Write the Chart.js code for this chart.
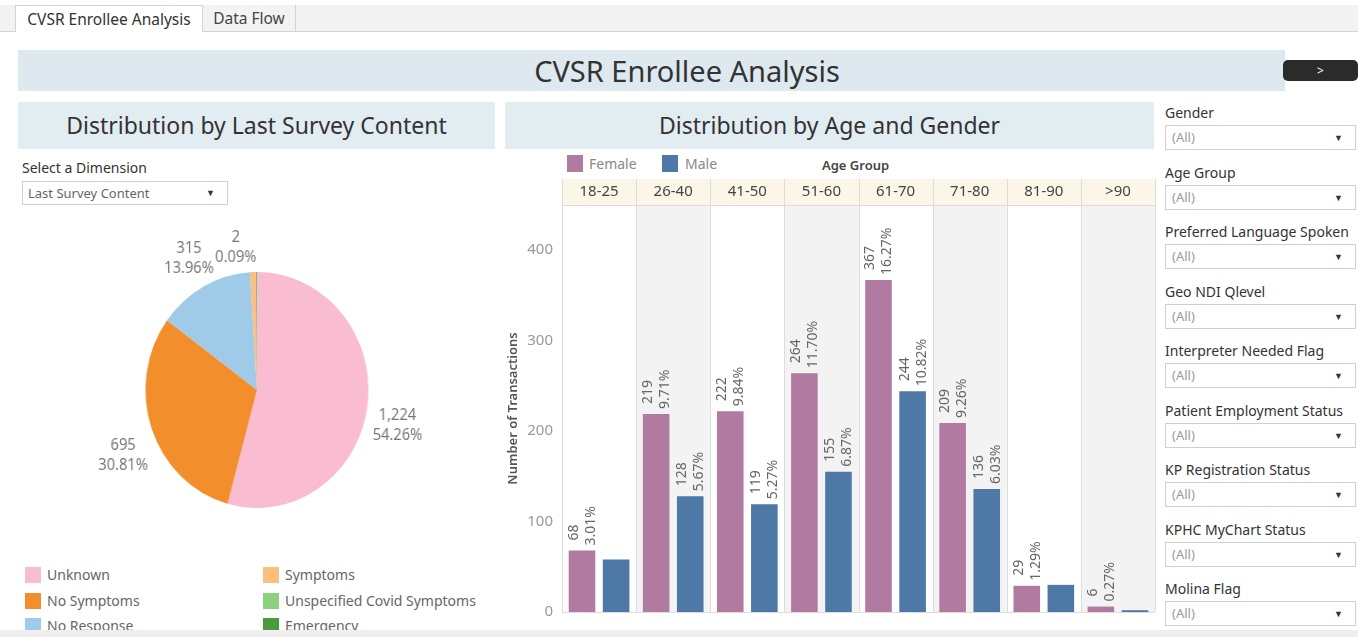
<!DOCTYPE html>
<html>
<head>
<meta charset="utf-8">
<script src="https://cdn.jsdelivr.net/npm/chart.js@4"></script>
<style>
  body { margin: 0; width: 1358px; height: 637px; overflow: hidden; background: #fff; font-family: "Noto Sans", sans-serif; position: relative; }
  .abs { position: absolute; }
  .tabbar { left: 0; top: 5px; width: 1358px; height: 26px; background: #f3f3f3; border-bottom: 1px solid #d4d4d4; }
  .tab { top: 5px; height: 26px; line-height: 26px; font-size: 15.5px; color: #333; text-align: center; box-sizing: border-box; }
  .banner { background: #dde9ef; }
  .hdr { background: #e2edf2; text-align: center; color: #333; font-size: 23px; line-height: 47px; }
  .dd { border: 1px solid #cfcfcf; box-sizing: border-box; background: #fff; color: #9a9a9a; font-size: 13px; }
  .dd .arr { position: absolute; right: 12px; top: 0; font-size: 9px; color: #333; }
  .flabel { left: 1165px; font-size: 14px; color: #333; }
  .sw { width: 16px; height: 16px; }
  .lg { font-size: 14px; color: #666; }
</style>
</head>
<body>
<div class="abs tabbar"></div>
<div class="abs tab" style="left:15px;width:188px;background:#fff;border:1px solid #d4d4d4;border-bottom:none;height:27px;">CVSR Enrollee Analysis</div>
<div class="abs tab" style="left:203px;width:93px;border-right:1px solid #d4d4d4;color:#444;">Data Flow</div>

<div class="abs banner" style="left:18px;top:50px;width:1267px;height:41px;"></div>
<div class="abs" style="left:18px;top:50px;width:1338px;height:41px;line-height:41px;text-align:center;font-size:29px;color:#333;">CVSR Enrollee Analysis</div>
<div class="abs" style="left:1283px;top:60px;width:75px;height:21px;background:#2b2b2b;border-radius:5px;color:#fff;text-align:center;line-height:21px;font-size:12px;">&gt;</div>

<div class="abs hdr" style="left:18px;top:102px;width:477px;height:47px;">Distribution by Last Survey Content</div>
<div class="abs hdr" style="left:505px;top:102px;width:649px;height:47px;">Distribution by Age and Gender</div>

<div class="abs" style="left:22px;top:158px;font-size:14px;color:#333;">Select a Dimension</div>
<div class="abs dd" style="left:22px;top:181px;width:206px;height:24px;line-height:22px;padding-left:5px;color:#666;font-size:13px;">Last Survey Content<span class="arr" style="right:12px;">&#9660;</span></div>

<div class="abs" style="left:18px;top:208px;width:477px;height:350px;transform:scaleX(0.945);transform-origin:238.5px 50%;"><canvas id="pie"></canvas></div>
<div id="pieLegend"></div>

<div class="abs sw" style="left:567px;top:155px;height:17px;background:#b07aa1;"></div>
<div class="abs lg" style="left:589px;top:154px;color:#888;">Female</div>
<div class="abs sw" style="left:662px;top:155px;height:17px;background:#4e79a7;"></div>
<div class="abs lg" style="left:685px;top:154px;color:#888;">Male</div>
<div class="abs" style="left:822px;top:156px;font-size:13px;color:#444;font-weight:600;">Age Group</div>

<div class="abs" style="left:505px;top:179px;width:655px;height:451px;"><canvas id="bars"></canvas></div>

<div id="filters"></div>
<div class="abs" style="left:0;top:630px;width:1358px;height:7px;background:#efefef;"></div>

<script>
// Pie data
const surveyLabels = ["Unknown", "No Symptoms", "No Response", "Symptoms", "Unspecified Covid Symptoms", "Emergency"];
const surveyCounts = [1224, 695, 315, 18, 2, 2];
const surveyColors = ["#f9bcd1", "#f28e2b", "#a0cbe8", "#ffbe7d", "#8cd17d", "#499b3e"];
const surveyLabelled = ["Unknown", "No Symptoms", "No Response", "Emergency"];

// Bar data
const ageGroups = ["18-25", "26-40", "41-50", "51-60", "61-70", "71-80", "81-90", ">90"];
const femaleCounts = [68, 219, 222, 264, 367, 209, 29, 6];
const maleCounts = [58, 128, 119, 155, 244, 136, 30, 2];
const maleUnlabelled = ["18-25", "81-90", ">90"];
const yTicks = [0, 100, 200, 300, 400];

// Filters
const filterNames = ["Gender", "Age Group", "Preferred Language Spoken", "Geo NDI Qlevel", "Interpreter Needed Flag",
  "Patient Employment Status", "KP Registration Status", "KPHC MyChart Status", "Molina Flag"];

//Filters panel
let html = "";
filterNames.forEach((name, i) => {
  const y = 103 + i * 59.5;
  html += `<div class="abs flabel" style="top:${y}px;">${name}</div>`;
  html += `<div class="abs dd" style="left:1165px;top:${y + 22}px;width:191px;height:25px;line-height:23px;padding-left:6px;">(All)<span class="arr">&#9660;</span></div>`;
});
document.getElementById("filters").innerHTML = html;

//Pie legend
let lhtml = "";
surveyLabels.forEach((name, i) => {
  const col = Math.floor(i / 3), row = i % 3;
  const x = col ? 263 : 25, y = 567 + row * 25.5;
  lhtml += `<div class="abs sw" style="left:${x}px;top:${y}px;background:${surveyColors[i]};"></div>`;
  lhtml += `<div class="abs lg" style="left:${x + 22}px;top:${y - 2}px;">${name}</div>`;
});
document.getElementById("pieLegend").innerHTML = lhtml;

const surveyTotal = surveyCounts.reduce((a, b) => a + b);

//Pie labels outside the slices
const pieLabelPlugin = {
  id: "pieLabels",
  afterDatasetsDraw(chart) {
    const ctx = chart.ctx;
    const meta = chart.getDatasetMeta(0);
    ctx.save();
    ctx.font = '15.5px "Noto Sans"';
    ctx.fillStyle = "#777";
    ctx.textBaseline = "middle";
    ctx.textAlign = "center";
    meta.data.forEach((arc, i) => {
      if (!surveyLabelled.includes(surveyLabels[i])) return;
      const p = arc.getProps(["x", "y", "startAngle", "endAngle", "outerRadius"], true);
      const mid = (p.startAngle + p.endAngle) / 2;
      const pct = surveyCounts[i] / surveyTotal * 100;
      const d = p.outerRadius + (pct < 1 ? 24 : 32);
      let x = p.x + Math.cos(mid) * d;
      let y = p.y + Math.sin(mid) * d;
      if (pct < 1) x -= 22;
      if (Math.sin(mid) > 0.1) y += 16;
      ctx.fillText(surveyCounts[i].toLocaleString("en-US"), x, y - 10);
      ctx.fillText(pct.toFixed(2) + "%", x, y + 10);
    });
    ctx.restore();
  },
};

new Chart(document.getElementById("pie"), {
  type: "pie",
  data: {
    labels: surveyLabels,
    datasets: [{ data: surveyCounts, backgroundColor: surveyColors, borderWidth: 0 }],
  },
  options: {
    responsive: true,
    maintainAspectRatio: false,
    animation: false,
    layout: { padding: { top: 64, bottom: 50, left: 121, right: 120 } },
    plugins: { legend: { display: false }, tooltip: { enabled: false } },
  },
  plugins: [pieLabelPlugin],
});

const grandTotal = femaleCounts.reduce((a, b) => a + b) + maleCounts.reduce((a, b) => a + b);

//Column backgrounds, header band and separators
const columnPlugin = {
  id: "columns",
  beforeDraw(chart) {
    const { ctx, chartArea, scales } = chart;
    const xs = scales.x;
    const w = xs.width / ageGroups.length;
    ctx.save();
    ctx.fillStyle = "#fcf6e8";
    ctx.fillRect(chartArea.left, 0, chartArea.right - chartArea.left, chartArea.top);
    ageGroups.forEach((g, i) => {
      const left = xs.getPixelForValue(i) - w / 2;
      if (i % 2 === 1) {
        ctx.fillStyle = "#f3f3f3";
        ctx.fillRect(left, chartArea.top, w, chartArea.bottom - chartArea.top);
      }
    });
    ctx.strokeStyle = "#dcdcdc";
    ctx.lineWidth = 1;
    for (let i = 0; i <= ageGroups.length; i++) {
      const x = Math.round(xs.left + i * w) + 0.5;
      ctx.beginPath();
      ctx.moveTo(x, 0);
      ctx.lineTo(x, chartArea.bottom);
      ctx.stroke();
    }
    ctx.beginPath();
    ctx.moveTo(chartArea.left, chartArea.top + 0.5);
    ctx.lineTo(chartArea.right, chartArea.top + 0.5);
    ctx.moveTo(chartArea.left, chartArea.bottom + 0.5);
    ctx.lineTo(chartArea.right, chartArea.bottom + 0.5);
    ctx.stroke();
    ctx.restore();
  },
  afterDatasetsDraw(chart) {
    const ctx = chart.ctx;
    ctx.save();
    ctx.font = '14px "Noto Sans"';
    ctx.fillStyle = "#666";
    ctx.textBaseline = "middle";
    ctx.textAlign = "left";
    chart.data.datasets.forEach((ds, di) => {
      chart.getDatasetMeta(di).data.forEach((bar, i) => {
        if (di === 1 && maleUnlabelled.includes(ageGroups[i])) return;
        const v = ds.data[i];
        ctx.save();
        ctx.translate(bar.x, bar.y - 5);
        ctx.rotate(-Math.PI / 2);
        ctx.fillText(String(v), 5, -8);
        ctx.fillText((v / grandTotal * 100).toFixed(2) + "%", 0, 9);
        ctx.restore();
      });
    });
    ctx.restore();
  },
};

new Chart(document.getElementById("bars"), {
  type: "bar",
  data: {
    labels: ageGroups,
    datasets: [
      { label: "Female", data: femaleCounts, backgroundColor: "#b07aa1", categoryPercentage: 0.92, barPercentage: 0.78 },
      { label: "Male", data: maleCounts, backgroundColor: "#4e79a7", categoryPercentage: 0.92, barPercentage: 0.78 },
    ],
  },
  options: {
    responsive: true,
    maintainAspectRatio: false,
    animation: false,
    layout: { padding: { left: 0, right: 5, top: 0, bottom: 2 } },
    plugins: { legend: { display: false }, tooltip: { enabled: false } },
    scales: {
      x: {
        position: "top",
        grid: { display: false, drawTicks: false },
        border: { display: false },
        ticks: { color: "#444", font: { size: 15, family: "Noto Sans" }, padding: 4 },
        afterFit(scale) { scale.height = 26; },
      },
      y: {
        min: 0,
        max: 450,
        grid: { display: false, drawTicks: false },
        border: { display: false },
        afterBuildTicks(scale) { scale.ticks = yTicks.map((v) => ({ value: v })); },
        ticks: { color: "#999", font: { size: 15, family: "Noto Sans" }, padding: 9 },
        title: { display: true, text: "Number of Transactions", color: "#555", font: { size: 13, weight: "600", family: "Noto Sans" }, padding: { top: 0, bottom: 0 } },
        afterFit(scale) { scale.width = 57; },
      },
    },
  },
  plugins: [columnPlugin],
});
</script>
</body>
</html>
